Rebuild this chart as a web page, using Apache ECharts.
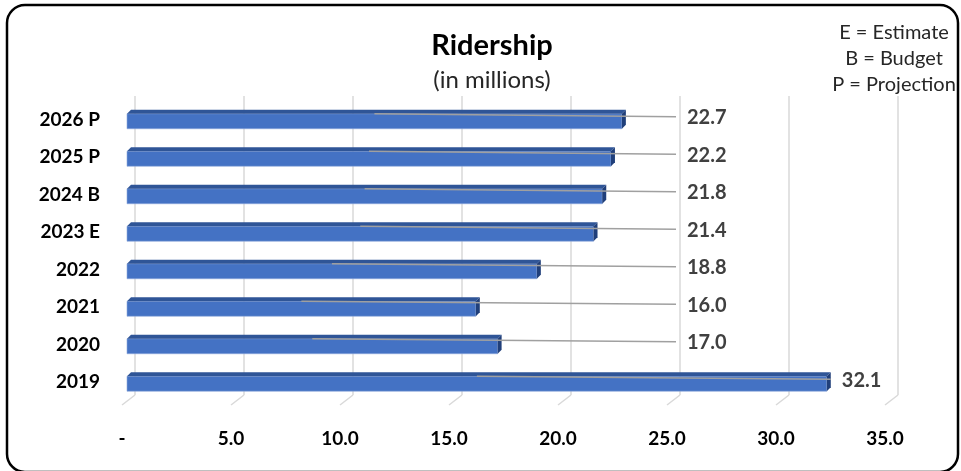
<!DOCTYPE html>
<html>
<head>
<meta charset="utf-8">
<script src="https://cdn.jsdelivr.net/npm/echarts@6/dist/echarts.min.js"></script>
<style>
html,body{margin:0;padding:0;background:#fff;}
#chart{width:961px;height:471px;}
</style>
</head>
<body>
<div id="chart"></div>
<script>
const categories = ['2019', '2020', '2021', '2022', '2023 E', '2024 B', '2025 P', '2026 P'];
const ridership = [32.1, 17.0, 16.0, 18.8, 21.4, 21.8, 22.2, 22.7];
const xTicks = [0, 5, 10, 15, 20, 25, 30, 35];
const titleText = 'Ridership';
const subtitleText = '(in millions)';
const legendLines = ['E = Estimate', 'B = Budget', 'P = Projection'];

const FONT = 'Lato';
const chart = echarts.init(document.getElementById('chart'), null, {renderer: 'canvas'});

function barRender(params, api) {
  const v = api.value(0);
  const i = api.value(1);
  const p0 = api.coord([0, i]);
  const p1 = api.coord([v, i]);
  const c = p0[1];
  const x0 = p0[0] + 5, x1 = p1[0] + 5;
  const top = c - 6, bot = c + 9, d = 4;
  const mid = api.coord([v / 2, i])[0] + 5;
  const labelX = api.coord([Math.max(v, 25), i])[0] + 20;
  return {
    type: 'group',
    children: [
      {type: 'rect', shape: {x: x0, y: top, width: x1 - x0, height: bot - top},
       style: {fill: '#4472C4', stroke: '#8FAADC', lineWidth: 0.6}},
      {type: 'polygon', shape: {points: [[x0, top], [x0 + d, top - d], [x1 + d, top - d], [x1, top]]},
       style: {fill: '#2F5597'}},
      {type: 'polygon', shape: {points: [[x1, top], [x1 + d, top - d], [x1 + d, bot - d], [x1, bot]]},
       style: {fill: '#203F7A'}},
      {type: 'line', shape: {x1: mid, y1: c - 6, x2: labelX - 11, y2: c - 3},
       style: {stroke: '#A0A0A0', lineWidth: 1.5}},
      {type: 'text', x: labelX, y: c - 2,
       style: {text: v.toFixed(1), fill: '#404040', font: 'bold 20px ' + FONT,
               textAlign: 'left', textVerticalAlign: 'middle'}}
    ]
  };
}

function floorRender(params, api) {
  const v = api.value(0);
  const x = api.coord([v, 0])[0];
  const yb = params.coordSys.y + params.coordSys.height;
  return {
    type: 'line',
    shape: {x1: x, y1: yb, x2: x - 13, y2: yb + 10},
    style: {stroke: '#D9D9D9', lineWidth: 1.5}
  };
}

const option = {
  backgroundColor: '#fff',
  animation: false,
  textStyle: {fontFamily: FONT},
  title: [
    {text: titleText, left: 487, top: 26, textAlign: 'center',
     textStyle: {fontFamily: FONT, fontWeight: 'bold', fontSize: 29, color: '#000'}},
    {text: subtitleText, left: 487, top: 63, textAlign: 'center',
     textStyle: {fontFamily: FONT, fontWeight: 'normal', fontSize: 24, color: '#262626'}}
  ],
  graphic: [
    {type: 'rect', shape: {x: 7, y: 5, width: 951, height: 467, r: 18},
     style: {fill: 'none', stroke: '#000', lineWidth: 2.5}, z: 100},
    {type: 'text', x: 894, y: 20,
     style: {text: legendLines.join('\n'), fill: '#262626', font: '20px ' + FONT,
             textAlign: 'center', lineHeight: 26}}
  ],
  grid: [
    {left: 135, right: 63, top: 96, bottom: 76},
    {left: 122, right: 76, top: 101, bottom: 70}
  ],
  xAxis: [
    {gridIndex: 0, type: 'value', min: 0, max: 35, interval: 5,
     axisLabel: {show: false}, axisLine: {show: false}, axisTick: {show: false},
     splitLine: {show: true, lineStyle: {color: '#D9D9D9', width: 1.5}}},
    {gridIndex: 1, type: 'value', min: 0, max: 35, interval: 5,
     axisLabel: {formatter: v => v === 0 ? '-' : v.toFixed(1), fontFamily: FONT,
                 fontWeight: 'bold', fontSize: 19, color: '#000', margin: 28},
     axisLine: {show: false}, axisTick: {show: false}, splitLine: {show: false}}
  ],
  yAxis: [
    {gridIndex: 0, type: 'category', data: categories, show: false},
    {gridIndex: 1, type: 'category', data: categories,
     axisLabel: {fontFamily: FONT, fontWeight: 'bold', fontSize: 19, color: '#000', margin: 22},
     axisLine: {show: false}, axisTick: {show: false}, splitLine: {show: false}}
  ],
  series: [
    {type: 'custom', xAxisIndex: 0, yAxisIndex: 0, renderItem: floorRender,
     data: xTicks.map(v => [v, 0]), silent: true},
    {type: 'custom', xAxisIndex: 1, yAxisIndex: 1, renderItem: barRender,
     data: ridership.map((v, i) => [v, i]), silent: true}
  ]
};
chart.setOption(option);
</script>
</body>
</html>
